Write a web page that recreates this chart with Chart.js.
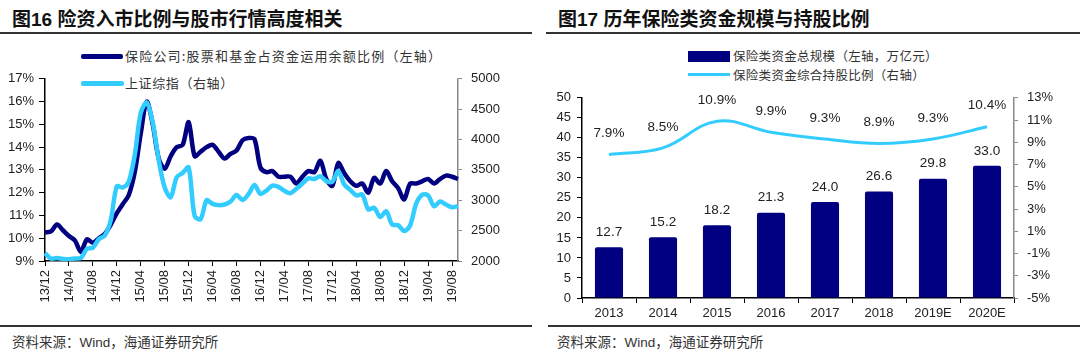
<!DOCTYPE html>
<html>
<head>
<meta charset="utf-8">
<script src="https://cdn.jsdelivr.net/npm/chart.js@4.4.0/dist/chart.umd.min.js"></script>
<style>
  html, body { margin:0; padding:0; background:#fff; }
  body { width:1080px; height:355px; position:relative; overflow:hidden;
         font-family:"Liberation Sans","Noto Sans CJK SC",Arial,sans-serif; }
  .title { position:absolute; top:4px; font-size:19px; font-weight:bold; color:#111;
           font-family:"Liberation Sans","Noto Sans CJK SC",sans-serif; white-space:nowrap; }
  .rule { position:absolute; height:1.5px; background:#333; }
  .src { position:absolute; top:331px; font-size:13.5px; color:#333; white-space:nowrap;
         font-family:"Liberation Sans","Noto Sans CJK SC",sans-serif; }
  .leg { position:absolute; color:#333; white-space:nowrap;
         font-family:"Noto Sans CJK SC",sans-serif; line-height:16px; }
  .legL { font-size:13px; letter-spacing:0.6px; }
  .legR { font-size:12.5px; letter-spacing:0.3px; }
  .sw { position:absolute; }
  canvas { position:absolute; }
</style>
</head>
<body>
<div class="title" style="left:12px;">图16 险资入市比例与股市行情高度相关</div>
<div class="rule" style="left:0; width:532px; top:32px;"></div>
<div class="title" style="left:558px;">图17 历年保险类资金规模与持股比例</div>
<div class="rule" style="left:546px; width:534px; top:32px;"></div>

<div class="sw" style="left:81px; top:54px; width:42px; height:5px; background:#000080; border-radius:2px;"></div>
<div class="leg legL" style="left:125px; top:48px; letter-spacing:1.2px;">保险公司:股票和基金占资金运用余额比例（左轴）</div>
<div class="sw" style="left:81px; top:81px; width:43px; height:5px; background:#33CCFF; border-radius:2px;"></div>
<div class="leg legL" style="left:125px; top:75px;">上证综指（右轴）</div>

<div class="sw" style="left:688px; top:51px; width:42px; height:11px; background:#000080;"></div>
<div class="leg legR" style="left:733px; top:48px;">保险类资金总规模（左轴，万亿元）</div>
<div class="sw" style="left:688px; top:73px; width:42px; height:3px; background:#33CCFF;"></div>
<div class="leg legR" style="left:733px; top:67px;">保险类资金综合持股比例（右轴）</div>

<div class="rule" style="left:0; width:532px; top:325px;"></div>
<div class="rule" style="left:548px; width:532px; top:325px;"></div>
<div class="src" style="left:12px;">资料来源：Wind，海通证券研究所</div>
<div class="src" style="left:557px;">资料来源：Wind，海通证券研究所</div>

<canvas id="c1" width="540" height="258" style="left:0; top:62px; width:540px; height:258px;"></canvas>
<canvas id="c2" width="540" height="247" style="left:540px; top:81px; width:540px; height:247px;"></canvas>

<script>
// ---------- Chart 16 data ----------
const months = [
  "13/12","14/01","14/02","14/03","14/04","14/05","14/06","14/07","14/08","14/09","14/10","14/11",
  "14/12","15/01","15/02","15/03","15/04","15/05","15/06","15/07","15/08","15/09","15/10","15/11",
  "15/12","16/01","16/02","16/03","16/04","16/05","16/06","16/07","16/08","16/09","16/10","16/11",
  "16/12","17/01","17/02","17/03","17/04","17/05","17/06","17/07","17/08","17/09","17/10","17/11",
  "17/12","18/01","18/02","18/03","18/04","18/05","18/06","18/07","18/08","18/09","18/10","18/11",
  "18/12","19/01","19/02","19/03","19/04","19/05","19/06","19/07","19/08","19/09"
];
const insuranceEquityRatio = [
  10.25,10.3,10.6,10.35,10.1,9.9,9.4,9.95,9.8,10.0,10.2,10.6,
  11.1,11.5,11.9,12.9,14.6,16.0,15.0,13.5,13.05,13.6,14.0,14.1,
  15.1,13.6,13.8,14.0,14.1,13.8,13.5,13.7,13.85,14.3,14.4,14.35,
  13.1,12.9,12.95,12.7,12.7,12.7,12.4,12.7,12.95,12.9,13.4,12.6,
  12.3,13.3,12.85,12.5,12.3,12.4,12.0,12.65,12.4,12.95,12.5,12.2,
  11.7,12.4,12.4,12.5,12.6,12.4,12.6,12.75,12.7,12.6
];
const shCompositeIndex = [
  2130,2040,2050,2035,2030,2040,2050,2200,2220,2360,2420,2680,
  3230,3210,3310,3750,4440,4610,4280,3660,3210,3050,3380,3450,
  3540,2740,2690,3000,2940,2920,2930,2980,3085,3005,3100,3250,
  3105,3160,3240,3220,3155,3115,3190,3275,3360,3350,3395,3315,
  3305,3480,3260,3170,3080,3095,2850,2875,2725,2820,2600,2590,
  2495,2585,2940,3090,3080,2900,2980,2930,2885,2905
];

// ---------- Chart 17 data ----------
const years = ["2013","2014","2015","2016","2017","2018","2019E","2020E"];
const insuranceFundScale = [12.7,15.2,18.2,21.3,24.0,26.6,29.8,33.0];
const equityHoldingRatio = [7.9,8.5,10.9,9.9,9.3,8.9,9.3,10.4];

const tickFont = { family: "'Liberation Sans', Arial, sans-serif", size: 13 };
const tickColor = '#222';

// ---------- Chart 16 ----------
new Chart(document.getElementById('c1'), {
  type: 'line',
  data: {
    labels: months,
    datasets: [
      { data: insuranceEquityRatio, yAxisID: 'yL', borderColor: '#000080', borderWidth: 4.5,
        pointRadius: 0, tension: 0.3, order: 1 },
      { data: shCompositeIndex, yAxisID: 'yR', borderColor: '#33CCFF', borderWidth: 4.5,
        pointRadius: 0, tension: 0.3, order: 0 }
    ]
  },
  options: {
    responsive: false, animation: false, devicePixelRatio: 1,
    layout: { padding: { top: 1, left: 0, right: 0, bottom: 0 } },
    plugins: { legend: { display: false }, tooltip: { enabled: false } },
    scales: {
      x: {
        offset: false,
        grid: { display: true, drawOnChartArea: false, drawTicks: true, tickLength: 5, color: '#000', lineWidth: 1 },
        border: { display: true, color: '#000', width: 1.5 },
        ticks: {
          autoSkip: false, maxRotation: 90, minRotation: 90, padding: 4,
          font: tickFont, color: tickColor,
          callback: function(v, i) { return i % 4 === 0 ? months[i] : null; }
        },
        afterFit: function(s) { s.height = 59; }
      },
      yL: {
        position: 'left', min: 9, max: 17,
        grid: { display: true, drawOnChartArea: false, tickLength: 6, color: '#000' },
        border: { display: true, color: '#000', width: 1.5 },
        ticks: { stepSize: 1, font: tickFont, color: tickColor, padding: 5,
                 callback: v => v + '%' },
        afterFit: function(s) { s.width = 45; }
      },
      yR: {
        position: 'right', min: 2000, max: 5000,
        grid: { display: true, drawOnChartArea: false, tickLength: 4, color: '#888' },
        border: { display: true, color: '#888', width: 1.5 },
        ticks: { stepSize: 500, font: tickFont, color: tickColor, padding: 9,
                 callback: v => String(v) },
        afterFit: function(s) { s.width = 82; }
      }
    }
  }
});

// ---------- Chart 17 ----------
const valueLabels = {
  id: 'valueLabels',
  afterDatasetsDraw(chart) {
    const ctx = chart.ctx;
    ctx.save();
    ctx.font = "13.5px 'Liberation Sans', Arial, sans-serif";
    ctx.fillStyle = '#222';
    ctx.textAlign = 'center';
    ctx.textBaseline = 'middle';
    chart.getDatasetMeta(0).data.forEach((el, i) => {
      ctx.fillText(insuranceFundScale[i].toFixed(1), el.x, el.y - 15);
    });
    chart.getDatasetMeta(1).data.forEach((el, i) => {
      ctx.fillText(equityHoldingRatio[i].toFixed(1) + '%', el.x, el.y - 21);
    });
    ctx.restore();
  }
};

new Chart(document.getElementById('c2'), {
  type: 'bar',
  data: {
    labels: years,
    datasets: [
      { type: 'bar', data: insuranceFundScale, yAxisID: 'yL', backgroundColor: '#000080',
        categoryPercentage: 1, barPercentage: 0.52, borderRadius: 2, borderSkipped: 'bottom', order: 1 },
      { type: 'line', data: equityHoldingRatio, yAxisID: 'yR', borderColor: '#33CCFF', borderWidth: 3,
        pointRadius: 0, tension: 0.4, order: 0 }
    ]
  },
  options: {
    responsive: false, animation: false, devicePixelRatio: 1,
    layout: { padding: { top: 1, left: 0, right: 0, bottom: 0 } },
    plugins: { legend: { display: false }, tooltip: { enabled: false } },
    scales: {
      x: {
        offset: true,
        grid: { display: true, offset: true, drawOnChartArea: false, tickLength: 5, color: '#000' },
        border: { display: true, color: '#000', width: 1.5 },
        ticks: { font: tickFont, color: tickColor, padding: 3, maxRotation: 0 },
        afterFit: function(s) { s.height = 30; }
      },
      yL: {
        position: 'left', min: 0, max: 50,
        grid: { display: true, drawOnChartArea: false, tickLength: 5, color: '#000' },
        border: { display: true, color: '#000', width: 1.5 },
        ticks: { stepSize: 5, font: tickFont, color: tickColor, padding: 6 },
        afterFit: function(s) { s.width = 42; }
      },
      yR: {
        position: 'right', min: -5, max: 13,
        grid: { display: true, drawOnChartArea: false, tickLength: 4, color: '#888' },
        border: { display: true, color: '#888', width: 1.5 },
        ticks: { stepSize: 2, font: tickFont, color: tickColor, padding: 9, callback: v => v + '%' },
        afterFit: function(s) { s.width = 66; }
      }
    }
  },
  plugins: [valueLabels]
});
</script>
</body>
</html>
